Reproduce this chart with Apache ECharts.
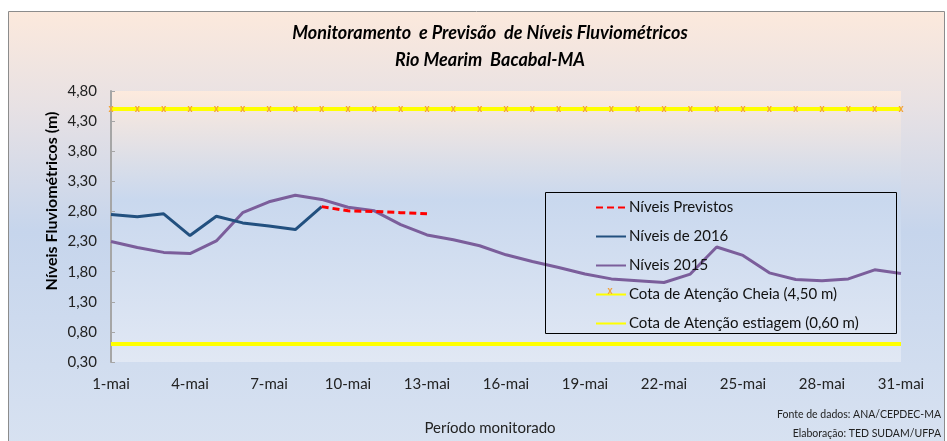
<!DOCTYPE html>
<html>
<head>
<meta charset="utf-8">
<script src="https://cdn.jsdelivr.net/npm/echarts@6/dist/echarts.min.js"></script>
<style>
  html, body { margin: 0; padding: 0; background: #fff; }
  #chart { width: 947px; height: 441px; }
</style>
</head>
<body>
<div id="chart"></div>
<script>
// dias do mês
const categories = [
  "1-mai", "2-mai", "3-mai", "4-mai", "5-mai", "6-mai", "7-mai", "8-mai", "9-mai", "10-mai",
  "11-mai", "12-mai", "13-mai", "14-mai", "15-mai", "16-mai", "17-mai", "18-mai", "19-mai", "20-mai",
  "21-mai", "22-mai", "23-mai", "24-mai", "25-mai", "26-mai", "27-mai", "28-mai", "29-mai", "30-mai",
  "31-mai",
];
const niveis2016 = [2.75, 2.71, 2.76, 2.40, 2.72, 2.61, 2.56, 2.50, 2.88];
const niveisPrevistos = [null, null, null, null, null, null, null, null, 2.88, 2.81, 2.80, 2.78, 2.76];
const niveis2015 = [
  2.30, 2.20, 2.12, 2.10, 2.31, 2.78, 2.96, 3.07, 3.00, 2.87,
  2.81, 2.58, 2.41, 2.33, 2.23, 2.08, 1.97, 1.87, 1.76, 1.68,
  1.65, 1.62, 1.76, 2.21, 2.07, 1.78, 1.67, 1.65, 1.68, 1.83,
  1.77,
];
const cotaCheia = 4.5;
const cotaEstiagem = 0.6;
const yTicks = { min: 0.3, max: 4.8, interval: 0.5 };

const FONT = "Lato, 'Liberation Sans', sans-serif";
const fmt = (v) => v.toFixed(2).replace(".", ",");
const X_SYMBOL = "path://M0,0L3,0L5,3.5L7,0L10,0L6.5,5L10,10L7,10L5,6.5L3,10L0,10L3.5,5Z";

const chart = echarts.init(document.getElementById("chart"));

const semSimbolo = { opacity: 0 }; // legenda só com a linha

const options = {
  animation: false,
  backgroundColor: "#ffffff",
  textStyle: { fontFamily: FONT },
  graphic: [
    // moldura do gráfico
    {
      type: "rect",
      z: -10,
      shape: { x: 8.5, y: 11.5, width: 936, height: 440 },
      style: {
        stroke: "#8c8c8c",
        lineWidth: 1,
        fill: new echarts.graphic.LinearGradient(0, 0, 0, 1, [
          { offset: 0, color: "#fce9dc" },
          { offset: 0.22, color: "#e7e1e4" },
          { offset: 0.5, color: "#c6d5ec" },
          { offset: 1, color: "#d8e2f1" },
        ]),
      },
    },
    {
      type: "text",
      x: 490,
      y: 20,
      style: {
        text: "Monitoramento  e Previsão  de Níveis Fluviométricos\nRio Mearim  Bacabal-MA",
        font: "italic bold 18px " + FONT,
        fill: "#000",
        textAlign: "center",
        lineHeight: 27,
      },
    },
    {
      type: "text",
      x: 52,
      y: 201,
      rotation: Math.PI / 2,
      style: {
        text: "Níveis Fluviométricos (m)",
        font: "bold 16px " + FONT,
        fill: "#000",
        textAlign: "center",
        textVerticalAlign: "middle",
      },
    },
    {
      type: "text",
      x: 490,
      y: 428,
      style: {
        text: "Período monitorado",
        font: "15px " + FONT,
        fill: "#222",
        textAlign: "center",
        textVerticalAlign: "middle",
      },
    },
    {
      type: "text",
      x: 941,
      y: 424,
      style: {
        text: "Fonte de dados: ANA/CEPDEC-MA\nElaboração: TED SUDAM/UFPA",
        font: "10.5px " + FONT,
        fill: "#222",
        textAlign: "right",
        textVerticalAlign: "middle",
        lineHeight: 19,
      },
    },
    // caixa da legenda
    {
      type: "rect",
      z: 5,
      shape: { x: 545.5, y: 192.5, width: 351, height: 141 },
      style: { stroke: "#000", lineWidth: 1, fill: "rgba(0,0,0,0)" },
    },
    // marca x da cota de cheia na legenda
    {
      type: "polygon",
      z: 10,
      x: 607.5,
      y: 288,
      shape: {
        points: [[0, 0], [1.5, 0], [2.5, 2.1], [3.5, 0], [5, 0], [3.25, 3], [5, 6], [3.5, 6], [2.5, 3.9], [1.5, 6], [0, 6], [1.75, 3]],
      },
      style: { fill: "#f2a33a" },
    },
  ],
  grid: {
    left: 111,
    right: 46,
    top: 91,
    bottom: 79,
    show: true,
    borderWidth: 0,
    backgroundColor: new echarts.graphic.LinearGradient(0, 0, 0, 1, [
      { offset: 0, color: "#fdeadd" },
      { offset: 0.4, color: "#c9d8ee" },
      { offset: 1, color: "#e1e8f4" },
    ]),
  },
  legend: {
    orient: "vertical",
    left: 595,
    top: 200,
    itemWidth: 30,
    itemHeight: 14,
    itemGap: 14,
    padding: 0,
    textStyle: { fontSize: 15, color: "#111", fontFamily: FONT, padding: [0, 0, 0, -2] },
    data: [
      { name: "Níveis Previstos", itemStyle: semSimbolo },
      { name: "Níveis de 2016", itemStyle: semSimbolo },
      { name: "Níveis 2015", itemStyle: semSimbolo },
      { name: "Cota de Atenção Cheia (4,50 m)", itemStyle: semSimbolo },
      { name: "Cota de Atenção estiagem (0,60 m)", itemStyle: semSimbolo },
    ],
  },
  xAxis: {
    type: "category",
    data: categories,
    boundaryGap: false,
    axisLine: { show: false },
    axisTick: { show: false },
    axisLabel: {
      interval: 2,
      color: "#222",
      fontSize: 15,
      margin: 15,
    },
  },
  yAxis: {
    type: "value",
    min: yTicks.min,
    max: yTicks.max,
    interval: yTicks.interval,
    splitLine: { show: false },
    axisLine: { show: true, lineStyle: { color: "#a6a6a6", width: 2 } },
    axisTick: { show: true, inside: true, length: 4, lineStyle: { color: "#a6a6a6" } },
    axisLabel: {
      color: "#222",
      fontSize: 15,
      margin: 14,
      formatter: fmt,
    },
  },
  series: [
    {
      name: "Cota de Atenção Cheia (4,50 m)",
      type: "line",
      data: categories.map(() => cotaCheia),
      symbol: X_SYMBOL,
      symbolSize: [5, 6],
      showAllSymbol: true,
      itemStyle: { color: "#f2a33a" },
      lineStyle: { color: "#ffff00", width: 4 },
      z: 1,
    },
    {
      name: "Cota de Atenção estiagem (0,60 m)",
      type: "line",
      data: categories.map(() => cotaEstiagem),
      symbol: "none",
      itemStyle: { color: "#ffff00" },
      lineStyle: { color: "#ffff00", width: 4 },
      z: 1,
    },
    {
      name: "Níveis 2015",
      type: "line",
      data: niveis2015,
      symbol: "none",
      itemStyle: { color: "#7b5e9b" },
      lineStyle: { color: "#7b5e9b", width: 3 },
      z: 2,
    },
    {
      name: "Níveis de 2016",
      type: "line",
      data: niveis2016.map((v, i) =>
        i === niveis2016.length - 1
          ? {
              value: v,
              label: {
                show: true,
                position: "bottom",
                distance: 12,
                offset: [4, 0],
                formatter: (p) => fmt(p.value),
                fontSize: 19,
                color: "#000",
                fontFamily: "'Liberation Sans', Arial, sans-serif",
              },
            }
          : v
      ),
      symbol: "none",
      itemStyle: { color: "#22507f" },
      lineStyle: { color: "#22507f", width: 3 },
      z: 3,
    },
    {
      name: "Níveis Previstos",
      type: "line",
      data: niveisPrevistos,
      symbol: "none",
      itemStyle: { color: "#ff0000" },
      lineStyle: { color: "#ff0000", width: 3, type: [7, 4] },
      z: 4,
    },
  ],
};

chart.setOption(options);
</script>
</body>
</html>
